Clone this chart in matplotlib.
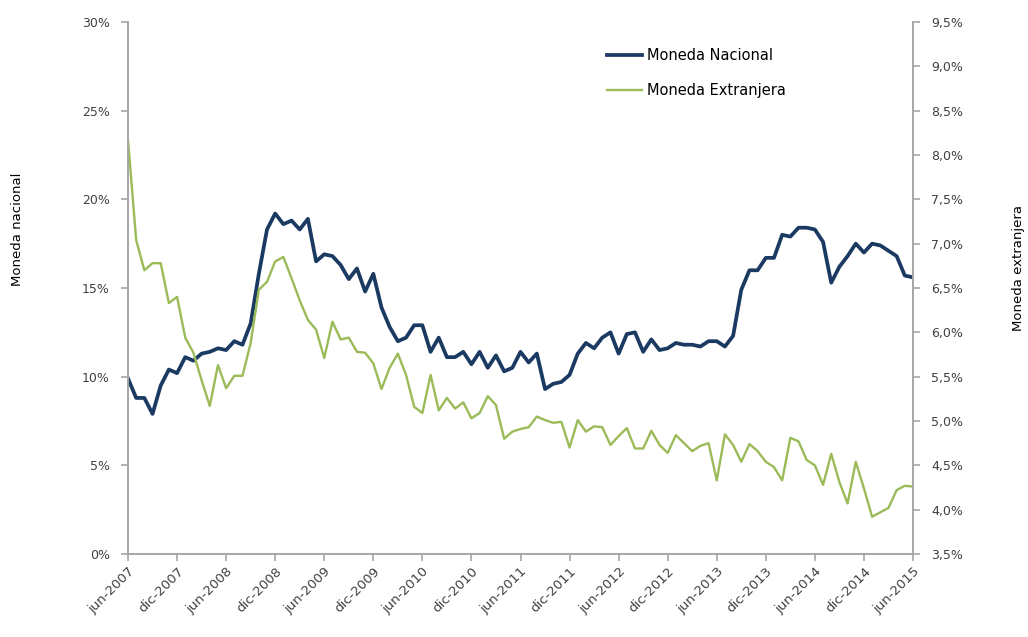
import numpy as np
import matplotlib
import matplotlib.pyplot as plt
from matplotlib.ticker import FuncFormatter, MultipleLocator

matplotlib.use("Agg")

# Tasas mensuales jun-2007 .. jun-2015 (%)
moneda_nacional = [
    9.9, 8.8, 8.8, 7.9, 9.5, 10.4, 10.2, 11.1, 10.9, 11.3, 11.4, 11.6,
    11.5, 12.0, 11.8, 13.0, 15.8, 18.3, 19.2, 18.6, 18.8, 18.3, 18.9, 16.5,
    16.9, 16.8, 16.3, 15.5, 16.1, 14.8, 15.8, 13.9, 12.8, 12.0, 12.2, 12.9,
    12.9, 11.4, 12.2, 11.1, 11.1, 11.4, 10.7, 11.4, 10.5, 11.2, 10.3, 10.5,
    11.4, 10.8, 11.3, 9.3, 9.6, 9.7, 10.1, 11.3, 11.9, 11.6, 12.2, 12.5,
    11.3, 12.4, 12.5, 11.4, 12.1, 11.5, 11.6, 11.9, 11.8, 11.8, 11.7, 12.0,
    12.0, 11.7, 12.3, 14.9, 16.0, 16.0, 16.7, 16.7, 18.0, 17.9, 18.4, 18.4,
    18.3, 17.6, 15.3, 16.2, 16.8, 17.5, 17.0, 17.5, 17.4, 17.1, 16.8, 15.7,
    15.6,
]
moneda_extranjera = [
    8.17, 7.04, 6.70, 6.78, 6.78, 6.33, 6.40, 5.94, 5.77, 5.46, 5.17, 5.63,
    5.37, 5.51, 5.51, 5.88, 6.48, 6.57, 6.80, 6.85, 6.61, 6.36, 6.14, 6.03,
    5.71, 6.12, 5.92, 5.94, 5.78, 5.77, 5.65, 5.36, 5.60, 5.76, 5.52, 5.16,
    5.09, 5.52, 5.12, 5.26, 5.14, 5.21, 5.03, 5.09, 5.28, 5.18, 4.80, 4.88,
    4.91, 4.93, 5.05, 5.01, 4.98, 4.99, 4.70, 5.01, 4.88, 4.94, 4.93, 4.73,
    4.83, 4.92, 4.69, 4.69, 4.89, 4.73, 4.64, 4.84, 4.75, 4.66, 4.72, 4.75,
    4.33, 4.85, 4.73, 4.54, 4.74, 4.66, 4.54, 4.48, 4.33, 4.81, 4.77, 4.56,
    4.50, 4.28, 4.63, 4.31, 4.07, 4.54, 4.24, 3.92, 3.97, 4.02, 4.22, 4.27,
    4.26,
]
tick_labels = [
    "jun-2007", "dic-2007", "jun-2008", "dic-2008", "jun-2009", "dic-2009",
    "jun-2010", "dic-2010", "jun-2011", "dic-2011", "jun-2012", "dic-2012",
    "jun-2013", "dic-2013", "jun-2014", "dic-2014", "jun-2015",
]

AZUL = "#1b3a62"
VERDE = "#9bbb59"
GRIS = "#a6a6a6"
TEXTO = "#404040"

plt.rcParams["font.family"] = ["DejaVu Sans"]

x = np.arange(len(moneda_nacional))

fig = plt.figure(figsize=(10.28, 6.37), dpi=100)
ax = fig.add_axes([128 / 1028, 1 - 554 / 637, 785 / 1028, 532 / 637])
ax2 = ax.twinx()

l1, = ax.plot(x, moneda_nacional, color=AZUL, lw=2.7, solid_joinstyle="round",
              label="Moneda Nacional")
l2, = ax2.plot(x, moneda_extranjera, color=VERDE, lw=1.7, solid_joinstyle="round",
               label="Moneda Extranjera")

ax.set_xlim(0, len(x) - 1)
ax.set_ylim(0, 30)
ax2.set_ylim(3.5, 9.5)
ax.yaxis.set_major_locator(MultipleLocator(5))
ax2.yaxis.set_major_locator(MultipleLocator(0.5))
ax.yaxis.set_major_formatter(FuncFormatter(lambda v, _: f"{v:.0f}%"))
ax2.yaxis.set_major_formatter(FuncFormatter(lambda v, _: f"{v:.1f}%".replace(".", ",")))

ax.set_xticks(x[::6])
ax.set_xticklabels(tick_labels, rotation=45, ha="right", rotation_mode="anchor")

for a in (ax, ax2):
    for s in a.spines.values():
        s.set_color(GRIS)
        s.set_linewidth(1.2)
    a.spines["top"].set_visible(False)
    a.tick_params(colors=GRIS, labelcolor=TEXTO, labelsize=9, length=5, width=1.2)
ax.tick_params(axis="x", labelsize=9.5, pad=3)
ax.tick_params(axis="y", pad=8)
ax2.tick_params(axis="y", pad=8)

# títulos de eje colocados en coordenadas del eje
ax.set_ylabel("Moneda nacional", fontsize=9.5, color="#000000")
ax.yaxis.set_label_coords(-0.132, 0.611)
ax2.set_ylabel("Moneda extranjera", fontsize=9.5, color="#000000")
ax2.yaxis.set_label_coords(1.126, 0.538)

leg = ax2.legend(handles=[l1, l2], loc="upper left", bbox_to_anchor=(0.594, 0.975),
                 frameon=False, fontsize=10.5, handlelength=2.4, handletextpad=0.3,
                 labelspacing=1.35, labelcolor="#000000")

fig.savefig("out.png", dpi=100)
plt.close(fig)
